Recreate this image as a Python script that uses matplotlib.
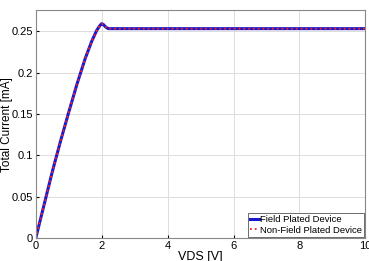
import numpy as np
import matplotlib.pyplot as plt
from matplotlib import font_manager

names = {f.name for f in font_manager.fontManager.ttflist}
fam = 'Liberation Sans Narrow' if 'Liberation Sans Narrow' in names else 'Liberation Sans'
plt.rcParams['font.family'] = [fam, 'DejaVu Sans']

# values
vds = [0, 0.25, 0.5, 0.75, 1.0, 1.25, 1.5, 1.7, 1.85, 1.95, 2.0, 2.05, 2.12, 2.2, 3, 4, 5, 6, 7, 8, 9, 10]
i_fp = [0, 0.040, 0.080, 0.117, 0.152, 0.186, 0.217, 0.238, 0.251, 0.257, 0.259, 0.258, 0.255, 0.253,
        0.253, 0.253, 0.253, 0.253, 0.253, 0.253, 0.253, 0.253]
i_nfp = [0, 0.040, 0.080, 0.117, 0.152, 0.186, 0.217, 0.238, 0.251, 0.257, 0.259, 0.258, 0.255, 0.253,
         0.253, 0.253, 0.253, 0.253, 0.253, 0.253, 0.253, 0.253]

fig, ax = plt.subplots(figsize=(3.69, 2.61), dpi=100)
fig.subplots_adjust(left=0.097, right=0.99, top=0.96, bottom=0.088)

ax.plot(vds, i_fp, color='#1a1acc', lw=2.2, label='Field Plated Device')
ax.plot(vds, i_nfp, color='#ff2020', lw=1.3, ls=':', label='Non-Field Plated Device')

ax.set_xlim(0, 10)
ax.set_ylim(0, 0.275)
ax.set_xticks([0, 2, 4, 6, 8, 10])
ax.set_yticks([0, 0.05, 0.1, 0.15, 0.2, 0.25])
ax.set_yticklabels(['0', '0.05', '0.1', '0.15', '0.2', '0.25'])
ax.tick_params(labelsize=8, length=2, direction='in', pad=2)
ax.grid(True, color='#dddddd', lw=0.7)
ax.set_xlabel('VDS [V]', fontsize=9, labelpad=0)
ax.set_ylabel('Total Current [mA]', fontsize=8.5)
ax.yaxis.set_label_coords(-0.069, 0.5)
for s in ax.spines.values():
    s.set_color('#888888')
    s.set_linewidth(0.8)

leg = ax.legend(loc='lower right', fontsize=6.8, handlelength=0.9, handletextpad=0.15,
                borderpad=0.2, labelspacing=0.15, fancybox=False, framealpha=1,
                borderaxespad=0.15)
leg.get_frame().set_edgecolor('#555555')
leg.get_frame().set_linewidth(0.6)

fig.savefig('out.png', dpi=100)
